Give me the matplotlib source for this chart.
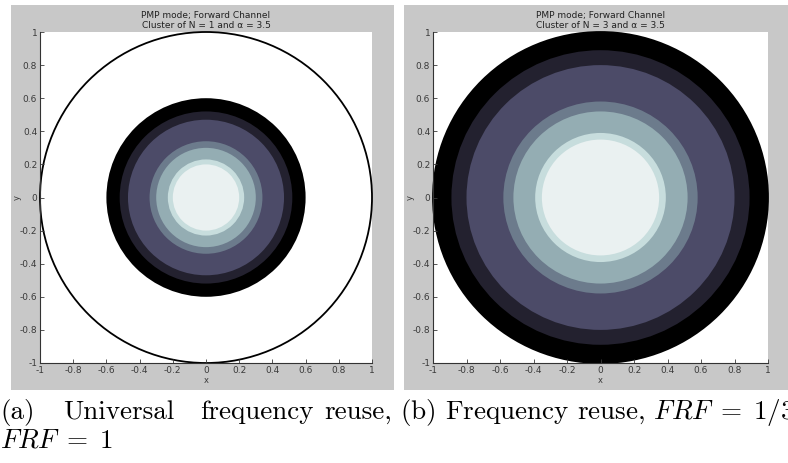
import numpy as np
import matplotlib
matplotlib.use('Agg')
import matplotlib.pyplot as plt
from matplotlib.patches import Circle, Rectangle

plt.rcParams['axes.unicode_minus'] = False
plt.rcParams['mathtext.fontset'] = 'cm'

# outer radius of each coverage ring (largest first), per panel
radii_a = [0.60, 0.52, 0.47, 0.34, 0.30, 0.23, 0.20]
radii_b = [1.00, 0.89, 0.80, 0.58, 0.52, 0.39, 0.35]
ring_colors = ['#000000', '#23212f', '#4c4b68', '#6c7b8c', '#94adb3', '#c7dddd', '#eaf1f1']
cell_radius = 1.0

titles = ['PMP mode; Forward Channel\nCluster of N = 1 and \u03b1 = 3.5',
          'PMP mode; Forward Channel\nCluster of N = 3 and \u03b1 = 3.5']
ticks = [-1, -0.8, -0.6, -0.4, -0.2, 0, 0.2, 0.4, 0.6, 0.8, 1]
tick_labels = ['-1', '-0.8', '-0.6', '-0.4', '-0.2', '0', '0.2', '0.4', '0.6', '0.8', '1']

W, H = 788, 463
fig = plt.figure(figsize=(W / 100, H / 100), dpi=100)

# gray figure panels (MATLAB window background), put behind the axes
bg = fig.add_axes([0, 0, 1, 1], zorder=-5)
bg.set_xlim(0, W)
bg.set_ylim(H, 0)
bg.axis('off')
for x0, x1 in [(11, 394), (404, 788)]:
    bg.add_patch(Rectangle((x0, 5), x1 - x0, 385, color='#c8c8c8', lw=0))

axes_px = [(40, 372), (433, 768)]
for i, (radii, title) in enumerate(zip([radii_a, radii_b], titles)):
    x0, x1 = axes_px[i]
    ax = fig.add_axes([x0 / W, 1 - 363 / H, (x1 - x0) / W, 331 / H])
    ax.set_xlim(-1, 1)
    ax.set_ylim(-1, 1)
    for r, c in zip(radii, ring_colors):
        ax.add_patch(Circle((0, 0), r, color=c, lw=0, clip_on=False))
    ax.add_patch(Circle((0, 0), cell_radius, fill=False, ec='black', lw=1.3, clip_on=False))

    for s in ['top', 'right']:
        ax.spines[s].set_visible(False)
    for s in ['left', 'bottom']:
        ax.spines[s].set_color('#333333')
        ax.spines[s].set_linewidth(0.8)
    ax.set_xticks(ticks)
    ax.set_yticks(ticks)
    ax.set_xticklabels(tick_labels)
    ax.set_yticklabels(tick_labels)
    ax.tick_params(direction='in', length=3, width=0.6, labelsize=6.5,
                   colors='#3a3a3a', pad=2)
    ax.set_xlabel('x', fontsize=6, color='#3a3a3a', labelpad=1)
    ax.set_ylabel('y', fontsize=6, color='#3a3a3a', labelpad=-1.5)
    ax.set_title(title, fontsize=6.5, color='#222222', pad=3, linespacing=1.15)

# captions below the panels
cap = dict(fontsize=19.5, family='cmr10', va='baseline')
fig.text(0 / W, 1 - 419 / H, '(a)', **cap)
fig.text(63 / W, 1 - 419 / H, 'Universal', **cap)
fig.text(200 / W, 1 - 419 / H, 'frequency', **cap)
fig.text(324 / W, 1 - 419 / H, 'reuse,', **cap)
fig.text(0 / W, 1 - 448 / H, r'$FRF\;=\;1$', fontsize=19.5, va='baseline')
fig.text(400 / W, 1 - 419 / H, r'(b) Frequency reuse, $FRF\;=\;1/3$', **cap)

fig.savefig('out.png', dpi=100)
